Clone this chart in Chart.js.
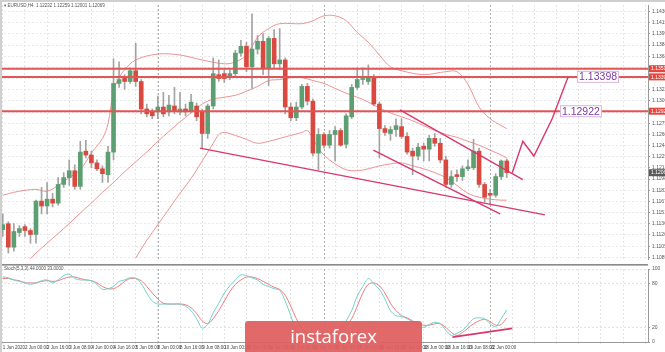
<!DOCTYPE html>
<html>
<head>
<meta charset="utf-8">
<script src="https://cdn.jsdelivr.net/npm/chart.js@4.4.0/dist/chart.umd.min.js"></script>
<style>
  html, body { margin: 0; padding: 0; background: #fff; }
  #wrap { position: relative; width: 665px; height: 352px; overflow: hidden; }
  #priceBox { position: absolute; left: 0; top: 0; width: 665px; height: 264px; }
  #stochBox { position: absolute; left: 0; top: 264px; width: 665px; height: 88px; }
  #badge {
    position: absolute; left: 245px; top: 321px; width: 177px; height: 40px;
    background: rgba(224, 94, 94, 0.93); border-radius: 3px;
    color: #fff; font: 18.5px "Open Sans", sans-serif; line-height: 30px; text-align: center;
  }
</style>
</head>
<body>
<div id="wrap">
  <div id="priceBox"><canvas id="priceChart" width="665" height="264"></canvas></div>
  <div id="stochBox"><canvas id="stochChart" width="665" height="88"></canvas></div>
  <div id="badge">instaforex</div>
</div>
<script>
// ---------------- data (EURUSD H4) ----------------
const open = [
  1.11280, 1.11362, 1.11036, 1.11239, 1.11321, 1.11267, 1.11212, 1.11675, 1.11607, 1.11702,
  1.11647, 1.11906, 1.12001, 1.12096, 1.11879, 1.12368, 1.12314, 1.12205, 1.12123, 1.12042,
  1.12355, 1.13307, 1.13388, 1.13334, 1.13483, 1.13334, 1.12953, 1.12912, 1.12912, 1.12980,
  1.12912, 1.12994, 1.12912, 1.12953, 1.12926, 1.12994, 1.12912, 1.12613, 1.12994, 1.13429,
  1.13443, 1.13402, 1.13443, 1.13728, 1.13823, 1.13538, 1.13783, 1.13891, 1.13511, 1.13932,
  1.13579, 1.13633, 1.12980, 1.12831, 1.12980, 1.13266, 1.13062, 1.12341, 1.12599, 1.12450,
  1.12599, 1.12654, 1.12463, 1.12844, 1.13252, 1.13361, 1.13334, 1.13402, 1.13021, 1.12681,
  1.12613, 1.12667, 1.12708, 1.12572, 1.12368, 1.12300, 1.12436, 1.12395, 1.12545, 1.12477,
  1.12246, 1.11906, 1.12042, 1.12015, 1.12123, 1.12137, 1.12368, 1.11906, 1.11783, 1.11756,
  1.12015, 1.12232
];
const high = [
  1.11498, 1.11389, 1.11362, 1.11335, 1.11348, 1.11294, 1.11688, 1.11865, 1.11933, 1.11783,
  1.12001, 1.12069, 1.12246, 1.12178, 1.12504, 1.12518, 1.12368, 1.12246, 1.12164, 1.12436,
  1.13647, 1.13606, 1.13429, 1.13524, 1.13864, 1.13361, 1.13021, 1.12953, 1.13130, 1.13184,
  1.13143, 1.13252, 1.13184, 1.13021, 1.13157, 1.13035, 1.12953, 1.13021, 1.13660, 1.13633,
  1.13497, 1.13497, 1.13769, 1.13905, 1.13878, 1.14272, 1.13973, 1.13998, 1.13959, 1.14054,
  1.14068, 1.13660, 1.13035, 1.13048, 1.13293, 1.13307, 1.13089, 1.12681, 1.12627, 1.12654,
  1.12708, 1.12681, 1.12885, 1.13293, 1.13524, 1.13524, 1.13565, 1.13429, 1.13048, 1.12722,
  1.12708, 1.12817, 1.12817, 1.12627, 1.12409, 1.12477, 1.12477, 1.12586, 1.12613, 1.12545,
  1.12300, 1.12096, 1.12110, 1.12164, 1.12246, 1.12531, 1.12409, 1.11933, 1.11838, 1.12055,
  1.12246, 1.12259
];
const low = [
  1.11185, 1.10954, 1.10981, 1.11185, 1.11185, 1.11090, 1.11090, 1.11498, 1.11498, 1.11593,
  1.11620, 1.11865, 1.11893, 1.11838, 1.11838, 1.12273, 1.12137, 1.12096, 1.11933, 1.11933,
  1.12246, 1.13252, 1.13225, 1.13307, 1.13266, 1.12885, 1.12844, 1.12817, 1.12817, 1.12844,
  1.12858, 1.12885, 1.12871, 1.12858, 1.12899, 1.12790, 1.12409, 1.12545, 1.12953, 1.13334,
  1.13320, 1.13361, 1.13415, 1.13687, 1.13470, 1.13239, 1.13715, 1.13429, 1.13279, 1.13524,
  1.13497, 1.12885, 1.12790, 1.12790, 1.12953, 1.13007, 1.12300, 1.12110, 1.12409, 1.12409,
  1.12232, 1.12436, 1.12409, 1.12817, 1.13225, 1.13293, 1.13293, 1.12994, 1.12273, 1.12586,
  1.12518, 1.12572, 1.12545, 1.12327, 1.12042, 1.12246, 1.12232, 1.12232, 1.12436, 1.12205,
  1.11865, 1.11865, 1.11947, 1.11961, 1.12096, 1.12110, 1.11865, 1.11661, 1.11634, 1.11729,
  1.11974, 1.12001
];
const close = [
  1.11348, 1.11036, 1.11253, 1.11294, 1.11267, 1.11212, 1.11675, 1.11607, 1.11702, 1.11647,
  1.11906, 1.12001, 1.12096, 1.11879, 1.12355, 1.12314, 1.12205, 1.12123, 1.12055, 1.12355,
  1.13307, 1.13361, 1.13334, 1.13483, 1.13334, 1.12953, 1.12885, 1.12858, 1.12980, 1.12885,
  1.13007, 1.12926, 1.12953, 1.12912, 1.13048, 1.12844, 1.12613, 1.12994, 1.13443, 1.13375,
  1.13375, 1.13443, 1.13728, 1.13823, 1.13538, 1.13783, 1.13891, 1.13511, 1.13932, 1.13579,
  1.13633, 1.12980, 1.12831, 1.12980, 1.13266, 1.13062, 1.12341, 1.12599, 1.12450, 1.12599,
  1.12654, 1.12450, 1.12858, 1.13252, 1.13361, 1.13375, 1.13388, 1.13021, 1.12681, 1.12627,
  1.12667, 1.12722, 1.12572, 1.12355, 1.12300, 1.12423, 1.12395, 1.12545, 1.12477, 1.12246,
  1.11906, 1.12015, 1.12015, 1.12123, 1.12151, 1.12368, 1.11906, 1.11729, 1.11756, 1.12015,
  1.12232, 1.12069
];

// Bollinger bands, read at sampled bars: [bar, price]
const bbUpper = [
  [0, 1.11756], [2, 1.11797], [4, 1.11824], [6, 1.11838], [8, 1.11811], [10, 1.11893], [12, 1.12001],
  [14, 1.12110], [16, 1.12341], [18, 1.12545], [19, 1.12749], [20, 1.13198], [21, 1.13388], [22, 1.13497],
  [24, 1.13633], [28, 1.13715], [32, 1.13701], [36, 1.13633], [40, 1.13579], [42, 1.13606], [44, 1.13701],
  [46, 1.13946], [48, 1.14068], [50, 1.14136], [54, 1.14136], [56, 1.14177], [58, 1.14245], [60, 1.14245],
  [62, 1.14177], [64, 1.14014], [66, 1.13878], [68, 1.13701], [70, 1.13538], [72, 1.13483], [76, 1.13429],
  [80, 1.13470], [82, 1.13470], [84, 1.13293], [86, 1.12980], [88, 1.12817], [90, 1.12722], [91, 1.12681]
];
const bbMiddle = [
  [4, 1.10804], [6, 1.10954], [8, 1.11090], [10, 1.11226], [12, 1.11362], [14, 1.11511], [16, 1.11647],
  [18, 1.11797], [20, 1.11933], [22, 1.12083], [24, 1.12219], [26, 1.12355], [28, 1.12504], [30, 1.12640],
  [32, 1.12776], [34, 1.12899], [36, 1.13021], [38, 1.13089], [40, 1.13116], [42, 1.13143], [44, 1.13198],
  [46, 1.13266], [48, 1.13347], [50, 1.13361], [52, 1.13388], [54, 1.13388], [56, 1.13347], [58, 1.13307],
  [60, 1.13239], [62, 1.13171], [64, 1.13116], [66, 1.13048], [68, 1.12967], [70, 1.12899], [72, 1.12844],
  [74, 1.12790], [76, 1.12722], [78, 1.12654], [80, 1.12599], [82, 1.12559], [84, 1.12504], [86, 1.12450],
  [88, 1.12382], [90, 1.12314], [91, 1.12273]
];
const bbLower = [
  [24, 1.10886], [26, 1.11131], [28, 1.11348], [30, 1.11566], [32, 1.11783], [34, 1.11988], [36, 1.12232],
  [38, 1.12477], [39, 1.12599], [40, 1.12627], [42, 1.12586], [44, 1.12531], [46, 1.12477], [48, 1.12504],
  [50, 1.12545], [52, 1.12586], [54, 1.12627], [55, 1.12654], [56, 1.12545], [57, 1.12409], [58, 1.12314],
  [60, 1.12191], [62, 1.12110], [64, 1.12096], [66, 1.12123], [68, 1.12164], [70, 1.12191], [72, 1.12205],
  [74, 1.12164], [76, 1.12123], [78, 1.12069], [80, 1.12001], [82, 1.11893], [84, 1.11783], [86, 1.11729],
  [88, 1.11702], [90, 1.11688], [91, 1.11688]
];

// Stochastic (5,3,3)
const stochK = [
  89, 88, 85, 83, 81, 79, 81, 84, 85, 81, 85, 91, 93, 87, 85, 85, 84, 79, 72, 73,
  76, 83, 85, 88, 87, 80, 67, 56, 52, 52, 52, 52, 52, 49, 43, 32, 19, 24, 40, 53,
  67, 77, 85, 92, 91, 88, 85, 79, 76, 73, 71, 56, 36, 16, 8, 9, 5, 8, 11, 11,
  13, 19, 29, 43, 63, 76, 87, 80, 72, 59, 43, 36, 35, 32, 27, 21, 20, 24, 27, 25,
  16, 9, 12, 16, 24, 32, 33, 32, 25, 21, 32, 44
];
const stochD = [
  87, 87, 85, 84, 81, 81, 81, 83, 84, 83, 84, 87, 89, 89, 87, 85, 84, 81, 76, 73,
  73, 77, 83, 87, 87, 84, 76, 67, 59, 53, 52, 52, 52, 51, 47, 39, 29, 25, 32, 43,
  56, 69, 79, 85, 89, 89, 87, 83, 79, 75, 72, 64, 49, 32, 19, 12, 9, 8, 9, 11,
  12, 16, 23, 32, 49, 67, 79, 81, 77, 67, 53, 43, 36, 33, 29, 25, 23, 23, 25, 25,
  20, 13, 9, 13, 19, 25, 29, 31, 28, 23, 24, 33
];

// axes
const N_SLOTS = 117;
const Y_MIN = 1.10872, Y_MAX = 1.14395;
const priceTicks = [
  1.14305, 1.14150, 1.13995, 1.13840, 1.13685, 1.13530, 1.13375, 1.13220, 1.13065, 1.12910,
  1.12755, 1.12600, 1.12445, 1.12290, 1.12135, 1.11980, 1.11825, 1.11670, 1.11515, 1.11360,
  1.11205, 1.11050, 1.10895
];
const stochTicks = [0, 20, 80, 100];
const tickLabels = [
  "1 Jun 2020", "2 Jun 00:00", "2 Jun 16:00", "3 Jun 08:00", "4 Jun 00:00", "4 Jun 16:00",
  "5 Jun 08:00", "8 Jun 00:00", "8 Jun 16:00", "9 Jun 08:00", "10 Jun 00:00", "10 Jun 16:00",
  "11 Jun 08:00", "12 Jun 00:00", "12 Jun 16:00", "15 Jun 08:00", "16 Jun 00:00", "16 Jun 16:00",
  "17 Jun 08:00", "18 Jun 00:00", "18 Jun 16:00", "19 Jun 08:00", "22 Jun 00:00"
];
const weekStarts = [28, 58, 88];

// drawn objects: [bar, price]
const levels = [1.13511, 1.13398, 1.12922];
const levelTags = [
  { text: "1.13398", price: 1.13398, at: 103.7 },
  { text: "1.12922", price: 1.12922, at: 100.6 }
];
const trendLines = [
  [[35.6, 1.12409], [97.9, 1.11484]],
  [[71.7, 1.12940], [93.9, 1.11974]],
  [[66.9, 1.12382], [89.8, 1.11498]]
];
const forecastPath = [[92.0, 1.12069], [93.9, 1.12504], [95.9, 1.12300], [99.2, 1.12817], [102.1, 1.13402]];
const stochTrend = [[81.2, 6.7], [92.0, 18.7]];

// ---------------- styling ----------------
const FONT = '"Liberation Sans", "DejaVu Sans", sans-serif';
const UP = "#5b9f72", DOWN = "#d9493f", WICK = "#a3a3a3";
const BB = "rgba(236, 128, 128, 0.85)";
const LEVEL = "#e25555", TREND = "#d8386c";

const slots = Array.from({ length: N_SLOTS }, (_, i) => i);
const toSeries = pairs => {
  const a = new Array(N_SLOTS).fill(null);
  pairs.forEach(([i, v]) => { a[i] = v; });
  return a;
};
const bodies = open.map((o, i) => [o, close[i]]);
const wicks = low.map((l, i) => [l, high[i]]);
const bodyColors = open.map((o, i) => close[i] >= o ? UP : DOWN);

const xTick = (v, i) => (i % 4 === 0 && tickLabels[i / 4]) || "";
const gridColor = ctx => ctx.index % 4 === 0 ? "#e4e4e4" : "rgba(0,0,0,0)";

function strokePath(ctx, x, y, pts, color, width) {
  ctx.save();
  ctx.strokeStyle = color;
  ctx.lineWidth = width;
  ctx.beginPath();
  pts.forEach(([i, v], k) => {
    const px = x.getPixelForValue(i), py = y.getPixelForValue(v);
    k ? ctx.lineTo(px, py) : ctx.moveTo(px, py);
  });
  ctx.stroke();
  ctx.restore();
}

function drawSeparators(chart) {
  const { ctx, chartArea: a, scales: { x } } = chart;
  ctx.save();
  ctx.strokeStyle = "#b0b0b0";
  ctx.lineWidth = 1;
  ctx.setLineDash([2, 2]);
  weekStarts.forEach(i => {
    const px = Math.round(x.getPixelForValue(i)) + 0.5;
    ctx.beginPath();
    ctx.moveTo(px, a.top);
    ctx.lineTo(px, a.bottom);
    ctx.stroke();
  });
  ctx.restore();
}

function axisBox(ctx, a, py, text, bg) {
  ctx.fillStyle = bg;
  ctx.fillRect(a.right + 1, py - 3.5, 664 - a.right, 7);
  ctx.fillStyle = "#fff";
  ctx.font = "5px " + FONT;
  ctx.textBaseline = "middle";
  ctx.textAlign = "left";
  ctx.fillText(text, a.right + 3, py + 0.3);
}

const priceOverlay = {
  id: "priceOverlay",
  beforeDatasetsDraw: drawSeparators,
  afterDatasetsDraw(chart) {
    const { ctx, chartArea: a, scales: { x, y } } = chart;
    // horizontal levels
    ctx.save();
    ctx.strokeStyle = LEVEL;
    ctx.lineWidth = 2;
    levels.forEach(p => {
      const py = y.getPixelForValue(p);
      ctx.beginPath();
      ctx.moveTo(a.left, py);
      ctx.lineTo(a.right, py);
      ctx.stroke();
    });
    ctx.restore();
    // trend lines and forecast
    trendLines.forEach(pts => strokePath(ctx, x, y, pts, TREND, 1.4));
    strokePath(ctx, x, y, forecastPath, TREND, 1.4);
    // level tags
    ctx.save();
    ctx.font = "10.5px " + FONT;
    ctx.textBaseline = "middle";
    levelTags.forEach(t => {
      const px = x.getPixelForValue(t.at), py = y.getPixelForValue(t.price);
      const w = ctx.measureText(t.text).width + 4;
      ctx.fillStyle = "#fff";
      ctx.fillRect(px, py - 6, w, 12);
      ctx.strokeStyle = "#d9b5dc";
      ctx.lineWidth = 1;
      ctx.strokeRect(px + 0.5, py - 5.5, w - 1, 11);
      ctx.fillStyle = "#7d3a9c";
      ctx.fillText(t.text, px + 2, py + 0.5);
    });
    ctx.restore();
  },
  afterDraw(chart) {
    const { ctx, chartArea: a, scales: { y } } = chart;
    ctx.save();
    levels.forEach(p => axisBox(ctx, a, y.getPixelForValue(p), p.toFixed(5), "#e5473f"));
    const last = close[close.length - 1];
    axisBox(ctx, a, y.getPixelForValue(last), last.toFixed(5), "#5a5a5a");
    // header
    const n = close.length - 1;
    ctx.fillStyle = "#555";
    ctx.font = "4.5px " + FONT;
    ctx.textBaseline = "top";
    ctx.fillText("\u25BE EURUSD,H4  " + [open[n], high[n], low[n], close[n]].map(v => v.toFixed(5)).join(" "), 4, 4);
    // window frame
    ctx.fillStyle = "#cfcfcf";
    ctx.fillRect(0, 0, 665, 2);
    ctx.fillRect(0, 0, 2, 264);
    ctx.restore();
  }
};

const stochOverlay = {
  id: "stochOverlay",
  beforeDatasetsDraw: drawSeparators,
  afterDatasetsDraw(chart) {
    const { ctx, scales: { x, y } } = chart;
    strokePath(ctx, x, y, stochTrend, TREND, 1.6);
  },
  afterDraw(chart) {
    const { ctx, chartArea: a } = chart;
    const n = stochK.length - 1;
    ctx.save();
    ctx.fillStyle = "#8a8a8a";
    ctx.fillRect(0, 0, a.right, 1.6);
    ctx.fillStyle = "#555";
    ctx.font = "4.5px " + FONT;
    ctx.textBaseline = "top";
    ctx.fillText("Stoch(5,3,3) " + stochK[n].toFixed(4) + " " + stochD[n].toFixed(4), 4, 3);
    ctx.fillStyle = "#cfcfcf";
    ctx.fillRect(0, 0, 2, 88);
    ctx.restore();
  }
};

const yTickFont = { size: 5, family: FONT };

new Chart(document.getElementById("priceChart"), {
  type: "bar",
  data: {
    labels: slots,
    datasets: [
      { label: "Body", data: bodies, backgroundColor: bodyColors, grouped: false, barThickness: 4, minBarLength: 1, order: 0 },
      { label: "Wick", data: wicks, backgroundColor: WICK, grouped: false, barThickness: 1, order: 1 },
      { type: "line", label: "BB upper", data: toSeries(bbUpper), borderColor: BB, borderWidth: 1, pointRadius: 0, spanGaps: true, tension: 0.35, order: 2 },
      { type: "line", label: "BB middle", data: toSeries(bbMiddle), borderColor: BB, borderWidth: 1, pointRadius: 0, spanGaps: true, tension: 0.35, order: 2 },
      { type: "line", label: "BB lower", data: toSeries(bbLower), borderColor: BB, borderWidth: 1, pointRadius: 0, spanGaps: true, tension: 0.35, order: 2 }
    ]
  },
  options: {
    responsive: false,
    animation: false,
    layout: { padding: { top: 4, bottom: 1, left: 0, right: 0 } },
    plugins: { legend: { display: false }, tooltip: { enabled: false } },
    scales: {
      x: {
        offset: true,
        ticks: { display: false },
        grid: { offset: false, color: gridColor, drawTicks: false },
        border: { display: false, dash: [2, 2] },
        afterFit: s => { s.height = 0; }
      },
      y: {
        position: "right",
        min: Y_MIN,
        max: Y_MAX,
        afterBuildTicks: s => { s.ticks = priceTicks.map(v => ({ value: v })); },
        ticks: { font: yTickFont, color: "#555", padding: 2, callback: v => v.toFixed(5) },
        grid: { color: "#e8e8e8", tickLength: 2, tickColor: "#999" },
        border: { color: "#9a9a9a", dash: [2, 2] },
        afterFit: s => { s.width = 17; }
      }
    }
  },
  plugins: [priceOverlay]
});

new Chart(document.getElementById("stochChart"), {
  type: "line",
  data: {
    labels: slots,
    datasets: [
      { label: "Main", data: stochK, borderColor: "#72cfcc", borderWidth: 1, pointRadius: 0, tension: 0.3 },
      { label: "Signal", data: stochD, borderColor: "#ee7b7b", borderWidth: 1, pointRadius: 0, tension: 0.3 }
    ]
  },
  options: {
    responsive: false,
    animation: false,
    layout: { padding: { top: 3, bottom: 0, left: 0, right: 0 } },
    plugins: { legend: { display: false }, tooltip: { enabled: false } },
    scales: {
      x: {
        offset: true,
        ticks: {
          autoSkip: false, maxRotation: 0, minRotation: 0, align: "start", padding: 1,
          font: { size: 4.5, family: FONT }, color: "#444", callback: xTick
        },
        grid: { offset: false, color: gridColor, tickLength: 2, tickColor: gridColor },
        border: { color: "#9a9a9a", dash: [2, 2] },
        afterFit: s => { s.height = 10; }
      },
      y: {
        position: "right",
        min: 0,
        max: 100,
        afterBuildTicks: s => { s.ticks = stochTicks.map(v => ({ value: v })); },
        ticks: { font: yTickFont, color: "#555", padding: 2 },
        grid: { color: "#e2e2e2", tickLength: 2, tickColor: "#999" },
        border: { color: "#9a9a9a", dash: [2, 2] },
        afterFit: s => { s.width = 17; }
      }
    }
  },
  plugins: [stochOverlay]
});
</script>
</body>
</html>
